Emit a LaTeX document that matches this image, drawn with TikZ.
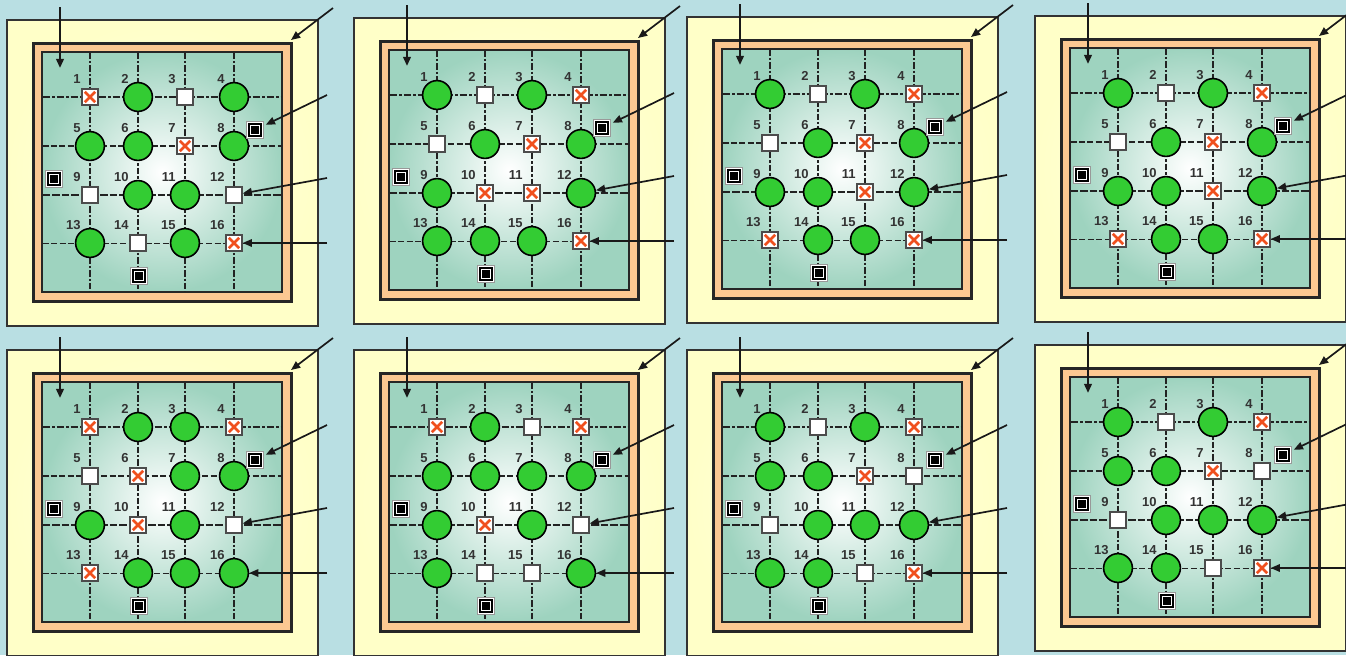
\documentclass[tikz,border=0pt]{standalone}
\usepackage{fontspec}
\setmainfont{Liberation Sans}
\usetikzlibrary{arrows.meta,calc}
\definecolor{bgblue}{RGB}{185,223,227}
\definecolor{yellowin}{RGB}{255,255,226}
\definecolor{yellowout}{RGB}{255,255,200}
\definecolor{peach}{RGB}{252,200,146}
\definecolor{gridgreen}{RGB}{158,211,191}
\definecolor{ballgreen}{RGB}{51,204,51}
\definecolor{xred}{RGB}{240,80,30}
\definecolor{labelgray}{RGB}{51,51,51}
\definecolor{linedark}{RGB}{34,34,34}
\tikzset{
  elemC/.style={circle, draw=black, line width=0.8pt, fill=ballgreen, minimum size=14.4pt, inner sep=0pt},
  elemS/.style={rectangle, draw=black!70, line width=0.7pt, fill=white, minimum size=8pt, inner sep=0pt},
  elemX/.style={elemS, path picture={
      \draw[xred, line width=1.3pt]
        ($(path picture bounding box.south west)+(1.4pt,1.4pt)$) -- ($(path picture bounding box.north east)+(-1.4pt,-1.4pt)$)
        ($(path picture bounding box.north west)+(1.4pt,-1.4pt)$) -- ($(path picture bounding box.south east)+(-1.4pt,1.4pt)$);}},
  marker/.style={rectangle, minimum size=8.6pt, inner sep=0pt, fill=white, draw=black!40, line width=0.4pt,
    path picture={
      \draw[black, line width=0.85pt] ($(path picture bounding box.center)+(-2.9pt,-2.9pt)$) rectangle ($(path picture bounding box.center)+(2.9pt,2.9pt)$);
      \fill[black] ($(path picture bounding box.center)+(-1.85pt,-1.85pt)$) rectangle ($(path picture bounding box.center)+(1.85pt,1.85pt)$);}},
  lbl/.style={font=\fontsize{6.5}{7}\selectfont\bfseries, text=labelgray, inner sep=0pt, anchor=south east},
  arr/.style={-{Triangle[length=4.6pt,width=3.8pt]}, line width=0.85pt, draw=black!90},
  vgrid/.style={draw=linedark, line width=1.05pt, dash pattern=on 3.2pt off 1pt on 1.2pt off 1pt},
  hgridA/.style={draw=linedark, line width=1.05pt, dash pattern=on 3.8pt off 1pt on 1.2pt off 1pt},
  hgridB/.style={draw=linedark, line width=0.75pt, dash pattern=on 3pt off 1.2pt},
  hgridC/.style={draw=linedark, line width=1.05pt, dash pattern=on 3.8pt off 1pt},
  hgridD/.style={draw=linedark, line width=0.45pt, dash pattern=on 3pt off 1.3pt},
  yellowbox/.style={inner color=yellowin, outer color=yellowout, draw=black!80, line width=0.7pt},
  orangebox/.style={fill=peach, draw=black!85, line width=1.5pt},
  greenbox/.style={inner color=white, outer color=gridgreen, draw=black!85, line width=0.8pt}
}
\newcommand{\drawpanel}[4]{%
\begin{scope}[shift={(#2,#3)}]
  \path[yellowbox] (-26,-23) rectangle (285,283);
  \path[orangebox] (0,0) rectangle (258,258);
  \path[greenbox] (9,9) rectangle (249,249);
  % grid lines
  \foreach \gx [count=\gi] in {57,105,152,201} {
    \coordinate (#1-vt\gi) at (\gx,9.5);
    \coordinate (#1-vb\gi) at (\gx,248.5);
    \draw[vgrid] (#1-vt\gi) -- (#1-vb\gi);
  }
  \foreach \gy/\gs [count=\gi] in {54/hgridA,103/hgridB,152/hgridC,200/hgridD} {
    \coordinate (#1-hl\gi) at (9.5,\gy);
    \coordinate (#1-hr\gi) at (248.5,\gy);
    \draw[\gs] (#1-hl\gi) -- (#1-hr\gi);
  }
  % elements
  \foreach \t [count=\k from 0] in {#4} {
    \pgfmathtruncatemacro{\cc}{mod(\k,4)}
    \pgfmathtruncatemacro{\rr}{div(\k,4)}
    \pgfmathsetmacro{\xx}{{57,105,152,201}[\cc]}
    \pgfmathsetmacro{\yy}{{54,103,152,200}[\rr]}
    \pgfmathtruncatemacro{\num}{\k+1}
    \node[elem\t] (#1-n\num) at (\xx,\yy) {};
    \node[lbl] (#1-l\num) at ($(#1-n\num.center)+(-9,-13)$) {\num};
  }
  % markers
  \node[marker] (#1-m1) at (222,87) {};
  \node[marker] (#1-m2) at (21,136) {};
  \node[marker] (#1-m3) at (106,233) {};
  % arrows
  \coordinate (#1-s1) at (27,-36); \coordinate (#1-t1) at (27,25);
  \draw[arr, line width=1.1pt] (#1-s1) -- (#1-t1);
  \coordinate (#1-s2) at (300,-35); \coordinate (#1-t2) at (258,-3);
  \draw[arr] (#1-s2) -- (#1-t2);
  \coordinate (#1-s3) at (294,52);
  \draw[arr, shorten >=1pt] (#1-s3) -- (#1-m1);
  \coordinate (#1-s4) at (294,135);
  \draw[arr] (#1-s4) -- (#1-n12);
  \coordinate (#1-s5) at (294,200);
  \draw[arr, line width=0.7pt] (#1-s5) -- (#1-n16);
\end{scope}}
\begin{document}
\begin{tikzpicture}[x=0.5pt,y=-0.5pt]
  \path[use as bounding box, fill=bgblue] (0,0) rectangle (1346,655);
  \clip (0,0) rectangle (1346,655);
  \drawpanel{pa}{33}{43}{X,C,S,C,C,C,X,C,S,C,C,S,C,S,C,X}
  \drawpanel{pb}{380}{41}{C,S,C,X,S,C,X,C,C,X,X,C,C,C,C,X}
  \drawpanel{pc}{713}{40}{C,S,C,X,S,C,X,C,C,C,X,C,X,C,C,X}
  \drawpanel{pd}{1061}{39}{C,S,C,X,S,C,X,C,C,C,X,C,X,C,C,X}
  \drawpanel{pe}{33}{373}{X,C,C,X,S,X,C,C,C,X,C,S,X,C,C,C}
  \drawpanel{pf}{380}{373}{X,C,S,X,C,C,C,C,C,X,C,S,C,S,S,C}
  \drawpanel{pg}{713}{373}{C,S,C,X,C,C,X,S,S,C,C,C,C,C,S,X}
  \drawpanel{ph}{1061}{368}{C,S,C,X,C,C,X,S,S,C,C,C,C,C,S,X}
\end{tikzpicture}
\end{document}
